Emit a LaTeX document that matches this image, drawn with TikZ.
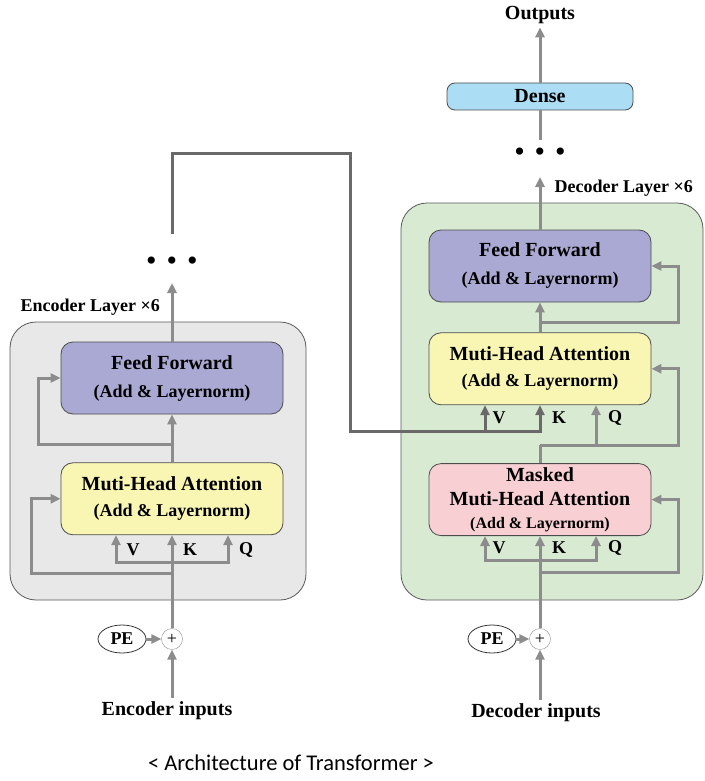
\documentclass[tikz,border=0pt]{standalone}
\usepackage{fontspec}
\setmainfont{Liberation Serif}
\newfontfamily\capfont{Carlito}
\definecolor{mygray}{RGB}{140, 140, 140}
\definecolor{mygraydark}{RGB}{105, 105, 105}
\definecolor{mypanel}{RGB}{232, 232, 232}
\definecolor{mygreen}{RGB}{217, 234, 211}
\definecolor{mypurple}{RGB}{169, 169, 211}
\definecolor{myyellow}{RGB}{248, 246, 178}
\definecolor{mypink}{RGB}{248, 208, 211}
\definecolor{myblue}{RGB}{171, 221, 245}
\usetikzlibrary{arrows.meta, positioning, shapes}

\begin{document}
\begin{tikzpicture}[x = 1pt, y = 1pt,
	layer/.style = {rounded corners = 12pt, draw = black!70, thick, minimum width = 222pt, minimum height = 72pt, align = center, font = \bfseries\fontsize{20}{20}\selectfont},
	panel/.style = {rounded corners = 26pt, draw = black!65, thick},
	lbl/.style = {font = \bfseries\fontsize{18}{18}\selectfont},
	dots/.style = {font = \fontsize{30}{30}\selectfont, inner sep = 0pt},
	arr/.style = {-{Triangle[length = 10pt, width = 9pt]}, mygray, line width = 3pt},
	darr/.style = {-{Triangle[length = 10pt, width = 9pt]}, mygraydark, line width = 3pt},
	line/.style = {mygray, line width = 3pt}]
	\useasboundingbox (0, 0) rectangle (704, -781);

	% panels
	\node[panel, fill = mypanel, minimum width = 296pt, minimum height = 278pt] (encbox) at (158, -461) {};
	\node[panel, fill = mygreen, minimum width = 302pt, minimum height = 397pt] (decbox) at (552, -401.5) {};
	\node[lbl, anchor = west] (enclbl) at (17, -307) {Encoder Layer ×6};
	\node[lbl, anchor = west] (declbl) at (551, -188) {Decoder Layer ×6};

	% encoder
	\node[layer, fill = mypurple] (encff) at (172, -378) {Feed Forward\\[8pt]{\fontsize{18}{18}\selectfont (Add \& Layernorm)}};
	\node[layer, fill = myyellow, below = 48pt of encff] (encmha) {Muti-Head Attention\\[6pt]{\fontsize{18}{18}\selectfont (Add \& Layernorm)}};
	\node[circle, draw = black!45, fill = white, minimum size = 21pt, inner sep = 0pt, font = \fontsize{18}{18}\selectfont] (encadd) at (172, -639) {+};
	\node[ellipse, draw = black!80, thick, minimum width = 48pt, minimum height = 28pt, inner sep = 0pt, lbl] (encpe) at (122, -639) {PE};
	\node[font = \bfseries\fontsize{20}{20}\selectfont] (encin) at (167, -711) {Encoder inputs};
	\node[dots] (encdots) at (172, -264) {\textbullet\hspace{10pt}\textbullet\hspace{10pt}\textbullet};
	\node[lbl] (encv) at (133, -550) {V};
	\node[lbl] (enck) at (190, -550) {K};
	\node[lbl] (encq) at (246, -550) {Q};
	\coordinate (encvk) at (172, -562);
	\coordinate (encres1) at (172, -573);
	\coordinate (encres2) at (172, -444);

	% decoder
	\node[layer, fill = mypurple] (decff) at (540, -266) {Feed Forward\\[8pt]{\fontsize{18}{18}\selectfont (Add \& Layernorm)}};
	\node[layer, fill = myyellow, below = 30pt of decff] (decmha) {Muti-Head Attention\\[6pt]{\fontsize{18}{18}\selectfont (Add \& Layernorm)}};
	\node[layer, fill = mypink, below = 58pt of decmha] (decmask) {Masked\\[4pt]Muti-Head Attention\\[3pt]{\fontsize{16}{16}\selectfont (Add \& Layernorm)}};
	\node[circle, draw = black!45, fill = white, minimum size = 21pt, inner sep = 0pt, font = \fontsize{18}{18}\selectfont] (decadd) at (540, -639) {+};
	\node[ellipse, draw = black!80, thick, minimum width = 48pt, minimum height = 28pt, inner sep = 0pt, lbl] (decpe) at (492, -639) {PE};
	\node[font = \bfseries\fontsize{20}{20}\selectfont] (decin) at (536, -713) {Decoder inputs};
	\node[dots] (decdots) at (540, -155) {\textbullet\hspace{10pt}\textbullet\hspace{10pt}\textbullet};
	\node[rounded corners = 8pt, draw = black!70, thick, fill = myblue, minimum width = 186pt, minimum height = 27pt, inner sep = 0pt, font = \bfseries\fontsize{20}{20}\selectfont] (dense) at (540, -96.5) {Dense};
	\node[font = \bfseries\fontsize{20}{20}\selectfont] (outputs) at (540, -15) {Outputs};
	\node[lbl] (decv1) at (499, -418) {V};
	\node[lbl] (deck1) at (559, -418) {K};
	\node[lbl] (decq1) at (615, -418) {Q};
	\node[lbl] (decv2) at (499, -548) {V};
	\node[lbl] (deck2) at (559, -548) {K};
	\node[lbl] (decq2) at (615, -548) {Q};
	\coordinate (decvk) at (540, -560);
	\coordinate (decres1) at (540, -572);
	\coordinate (decq) at (540, -445);
	\coordinate (decres2) at (540, -322);
	\coordinate (cross) at (350, -153);
	\coordinate (crossv) at (485, -431);

	\node[font = \capfont\fontsize{22.5}{24}\selectfont] (caption) at (291, -763) {< Architecture of Transformer >};

	% encoder connectors
	\draw[arr] (encin.north -| encadd) -- (encadd.south);
	\draw[arr] (encpe) -- (encadd);
	\draw[arr] (encadd.north) -- (encmha.south);
	\draw[arr] (encvk) -| ([xshift = -56pt]encmha.south);
	\draw[arr] (encvk) -| ([xshift = 56pt]encmha.south);
	\draw[arr] (encres1) -| ([xshift = -29pt]encmha.west) -- (encmha.west);
	\draw[arr] (encmha.north) -- (encff.south);
	\draw[arr] (encres2) -| ([xshift = -22pt]encff.west) -- (encff.west);
	\draw[arr] (encff.north) -- ([yshift = -19pt]encdots.center);

	% encoder to decoder
	\draw[darr] ([yshift = 30pt]encdots.center) |- (cross) |- (decmha.south |- crossv) -- (decmha.south);
	\draw[darr] (crossv) -- (crossv |- decmha.south);

	% decoder connectors
	\draw[arr] (decin.north -| decadd) -- (decadd.south);
	\draw[arr] (decpe) -- (decadd);
	\draw[arr] (decadd.north) -- (decmask.south);
	\draw[arr] (decvk) -| ([xshift = -55pt]decmask.south);
	\draw[arr] (decvk) -| ([xshift = 56pt]decmask.south);
	\draw[arr] (decres1) -| ([xshift = 27pt]decmask.east) -- (decmask.east);
	\draw[line] (decmask.north) -- (decq);
	\draw[arr] (decq) -| ([xshift = 56pt]decmha.south);
	\draw[arr] (decq) -| ([xshift = 27pt]decmha.east) -- (decmha.east);
	\draw[arr] (decmha.north) -- (decff.south);
	\draw[arr] (decres2) -| ([xshift = 27pt]decff.east) -- (decff.east);
	\draw[arr] (decff.north) -- ([yshift = -22pt]decdots.center);
	\draw[line] ([yshift = 15pt]decdots.center) -- (dense.south);
	\draw[arr] (dense.north) -- (outputs.south);
\end{tikzpicture}
\end{document}
